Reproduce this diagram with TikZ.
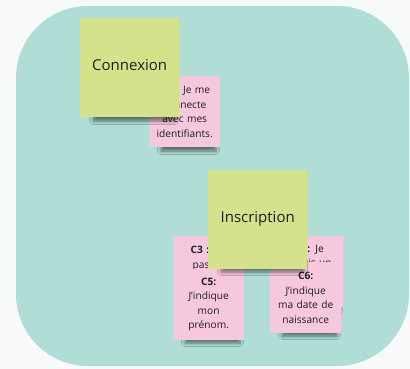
\documentclass[tikz,border=0pt]{standalone}
\usepackage{fontspec}
\setmainfont{Open Sans}
\usetikzlibrary{shadows.blur}

\definecolor{pagebg}{RGB}{248,250,250}
\definecolor{board}{RGB}{176,222,215}
\definecolor{stickygreen}{RGB}{212,227,139}
\definecolor{stickypink}{RGB}{246,200,221}
\definecolor{ink}{RGB}{30,30,30}

\tikzset{
  softshadow/.style={blur shadow={shadow xshift=0pt, shadow yshift=0pt,
      shadow opacity=50, shadow blur radius=3.5pt}},
  bignote/.style={fill=stickygreen, draw=none, inner sep=0pt,
      minimum width=99pt, minimum height=99pt, text=ink, align=center,
      text depth=5pt, font=\fontsize{15}{18}\selectfont},
  smallnote/.style={fill=stickypink, draw=none, inner sep=0pt,
      minimum width=71pt, minimum height=71pt, text width=64pt, text=ink,
      align=center, font=\fontsize{10.2}{14.5}\selectfont},
}
% blurred band under the lower edge of a note: left, top, right, bottom
\newcommand{\stickyshade}[4]{\path[softshadow] (#1,#2) rectangle (#3,#4);}

\begin{document}
\begin{tikzpicture}[x=1pt, y=-1pt]
  \useasboundingbox (0,0) rectangle (410,369);
  \fill[pagebg] (0,0) rectangle (410,369);
  % board
  \fill[board, rounded corners=72pt] (16,6) rectangle (409,366);

  % Connexion group
  \stickyshade{161}{142}{216}{151}
  \node[smallnote, anchor=north west] (c1) at (149,76)
    {\textbf{C1 :} Je me\\ connecte\\ avec mes\\ identifiants.};
  \stickyshade{93}{112}{175}{121}
  \node[bignote, anchor=north west] (connexion) at (80,18) {Connexion};

  % Inscription group
  \stickyshade{185}{301}{240}{310}
  \node[smallnote, anchor=north west] (c3) at (173,236)
    {\textbf{C3 :} J'ai\\ pas de\\ compte\\ existant.};
  \stickyshade{284}{301}{339}{310}
  \node[smallnote, anchor=north west] (c4) at (272,236)
    {\textbf{C4 :} Je\\ choisis un\\ mot de\\ passe.};
  \stickyshade{185}{334}{240}{343}
  \node[smallnote, anchor=north west] (c5) at (173,269)
    {\textbf{C5:}\\ J'indique\\ mon\\ prénom.};
  \stickyshade{282}{327}{337}{336}
  \node[smallnote, anchor=north west] (c6) at (270,262)
    {\textbf{C6:}\\ J'indique\\ ma date de\\ naissance};
  \stickyshade{221}{263}{304}{272}
  \node[bignote, anchor=north west] (inscription) at (208,170) {Inscription};
\end{tikzpicture}
\end{document}
